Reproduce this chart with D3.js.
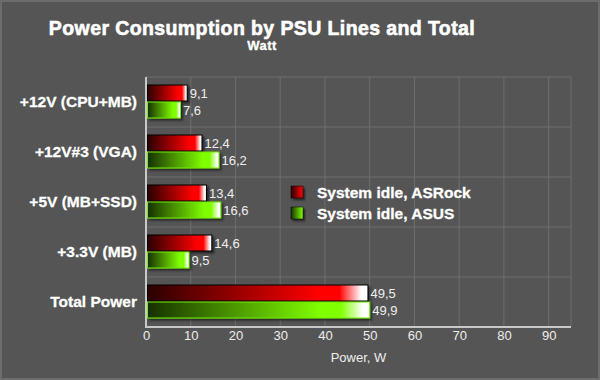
<!DOCTYPE html>
<html><head><meta charset="utf-8">
<script src="https://cdn.jsdelivr.net/npm/d3@7"></script>
<style>html,body{margin:0;padding:0;background:#555;}svg{display:block;}</style>
</head><body>
<script>
const categories = ["+12V (CPU+MB)", "+12V#3 (VGA)", "+5V (MB+SSD)", "+3.3V (MB)", "Total Power"];
const seriesNames = ["System idle, ASRock", "System idle, ASUS"];
const asrock = [9.1, 12.4, 13.4, 14.6, 49.5];
const asus = [7.6, 16.2, 16.6, 9.5, 49.9];
const xTicks = [0, 10, 20, 30, 40, 50, 60, 70, 80, 90];
const xMax = 95;

const W = 600, H = 380;
const FONT = "Liberation Sans, Arial, sans-serif";
const m = {left: 146, right: 29, top: 77, bottom: 53};
const svg = d3.select("body").append("svg").attr("width", W).attr("height", H);
const defs = svg.append("defs");
svg.append("rect").attr("x", 0).attr("y", 0).attr("width", W).attr("height", H).attr("fill", "#555555");
svg.append("rect").attr("x", 1).attr("y", 1).attr("width", W - 2).attr("height", H - 2)
  .attr("fill", "none").attr("stroke", "#6c6c6c").attr("stroke-width", 2);

const palettes = [
  {dark: "#2a0000", bright: "#ff0000", light: "#ffffff", edge: "#000000"},
  {dark: "#173000", bright: "#80ff00", light: "#ffffff", edge: "#70ee00"}
];
palettes.forEach((p, i) => {
  const g = defs.append("linearGradient").attr("id", "g" + i).attr("x1", "0").attr("x2", "1").attr("y1", "0").attr("y2", "0");
  g.append("stop").attr("offset", "0").attr("stop-color", p.dark);
  g.append("stop").attr("offset", "0.78").attr("stop-color", p.bright);
  g.append("stop").attr("offset", "0.87").attr("stop-color", p.bright);
  g.append("stop").attr("offset", "0.97").attr("stop-color", p.light);
  g.append("stop").attr("offset", "1").attr("stop-color", p.light);
  const lg = defs.append("linearGradient").attr("id", "lg" + i).attr("x1", "0").attr("x2", "1").attr("y1", "0").attr("y2", "0");
  lg.append("stop").attr("offset", "0").attr("stop-color", p.dark);
  lg.append("stop").attr("offset", "1").attr("stop-color", p.bright);
});
const f = defs.append("filter").attr("id", "sh").attr("x", "-10%").attr("y", "-30%").attr("width", "130%").attr("height", "180%");
f.append("feDropShadow").attr("dx", 2).attr("dy", 2).attr("stdDeviation", 1).attr("flood-color", "#000").attr("flood-opacity", 0.55);

const x = d3.scaleLinear().domain([0, xMax]).range([m.left, W - m.right]);
const y = d3.scaleBand().domain(categories).range([m.top, H - m.bottom]).paddingInner(0).paddingOuter(0);
const inner = d3.scaleBand().domain([0, 1]).range([8, y.bandwidth() - 9]).paddingInner(0.06);

// gridlines
const grid = svg.append("g");
grid.selectAll("line.v").data(xTicks.slice(1)).join("line")
  .attr("x1", d => x(d)).attr("x2", d => x(d)).attr("y1", m.top).attr("y2", H - m.bottom)
  .attr("stroke", "#6e6e6e").attr("stroke-width", 1);
grid.append("line").attr("x1", x(xMax)).attr("x2", x(xMax)).attr("y1", m.top).attr("y2", H - m.bottom)
  .attr("stroke", "#6e6e6e");
grid.selectAll("line.h").data(categories).join("line")
  .attr("x1", m.left).attr("x2", x(xMax)).attr("y1", d => y(d)).attr("y2", d => y(d))
  .attr("stroke", "#6e6e6e").attr("stroke-width", 1);

// bars
const series = [asrock, asus];
series.forEach((vals, si) => {
  const g = svg.append("g");
  g.selectAll("rect").data(vals).join("rect")
    .attr("x", x(0) + 1.5)
    .attr("y", (d, i) => y(categories[i]) + inner(si))
    .attr("width", d => x(d) - x(0) - 1)
    .attr("height", inner.bandwidth())
    .attr("fill", `url(#g${si})`)
    .attr("stroke", palettes[si].edge).attr("stroke-width", 1)
    .attr("filter", "url(#sh)");
  g.selectAll("text").data(vals).join("text")
    .attr("x", d => x(d) + 3)
    .attr("y", (d, i) => y(categories[i]) + inner(si) + inner.bandwidth() / 2)
    .attr("dy", "0.36em")
    .attr("fill", "#eeeeee")
    .attr("font-family", FONT)
    .attr("font-size", 13)
    .text(d => d3.format(".1f")(d).replace(".", ","));
});

// axes lines
svg.append("line").attr("x1", m.left).attr("x2", m.left).attr("y1", m.top).attr("y2", H - m.bottom + 1)
  .attr("stroke", "#c8c8c8").attr("stroke-width", 2);
svg.append("line").attr("x1", m.left - 1).attr("x2", x(xMax)).attr("y1", H - m.bottom).attr("y2", H - m.bottom)
  .attr("stroke", "#c8c8c8").attr("stroke-width", 2);

// x axis ticks
const xAxis = d3.axisBottom(x).tickValues(xTicks).tickSize(0).tickPadding(4).tickFormat(d3.format("d"));
const xa = svg.append("g").attr("transform", `translate(0,${H - m.bottom})`).call(xAxis);
xa.select(".domain").remove();
xa.selectAll("text").attr("fill", "#eeeeee").attr("font-family", FONT).attr("font-size", 13);

// y axis labels
const yAxis = d3.axisLeft(y).tickSize(0).tickPadding(9);
const ya = svg.append("g").attr("transform", `translate(${m.left},0)`).call(yAxis);
ya.select(".domain").remove();
ya.selectAll("text").attr("fill", "#ffffff").attr("font-family", FONT)
  .attr("font-size", 15.5).attr("font-weight", "bold")
  .attr("stroke", "#ffffff").attr("stroke-width", 0.3);

// axis title
svg.append("text").attr("x", (m.left + x(xMax)) / 2).attr("y", 362).attr("text-anchor", "middle")
  .attr("fill", "#eeeeee").attr("font-family", FONT).attr("font-size", 13)
  .text("Power, W");

// title
svg.append("text").attr("x", 262).attr("y", 35).attr("text-anchor", "middle").attr("fill", "#ffffff")
  .attr("font-family", FONT).attr("font-size", 19.5).attr("font-weight", "bold")
  .attr("letter-spacing", 0.4).attr("stroke", "#ffffff").attr("stroke-width", 0.6)
  .text("Power Consumption by PSU Lines and Total");
svg.append("text").attr("x", 262).attr("y", 50).attr("text-anchor", "middle").attr("fill", "#ffffff")
  .attr("font-family", FONT).attr("font-size", 13).attr("font-weight", "bold")
  .attr("letter-spacing", 0.4).attr("stroke", "#ffffff").attr("stroke-width", 0.3)
  .text("Watt");

// legend
const leg = svg.append("g").attr("transform", "translate(291,186)");
seriesNames.forEach((n, i) => {
  leg.append("rect").attr("x", 0).attr("y", i * 21).attr("width", 12).attr("height", 12)
    .attr("fill", `url(#lg${i})`).attr("stroke", "#000").attr("stroke-width", 0.5).attr("filter", "url(#sh)");
  leg.append("text").attr("x", 26).attr("y", i * 21 + 6).attr("dy", "0.36em").attr("fill", "#ffffff")
    .attr("font-family", FONT).attr("font-size", 15.5).attr("font-weight", "bold")
    .attr("stroke", "#ffffff").attr("stroke-width", 0.3)
    .text(n);
});
</script>
</body></html>
